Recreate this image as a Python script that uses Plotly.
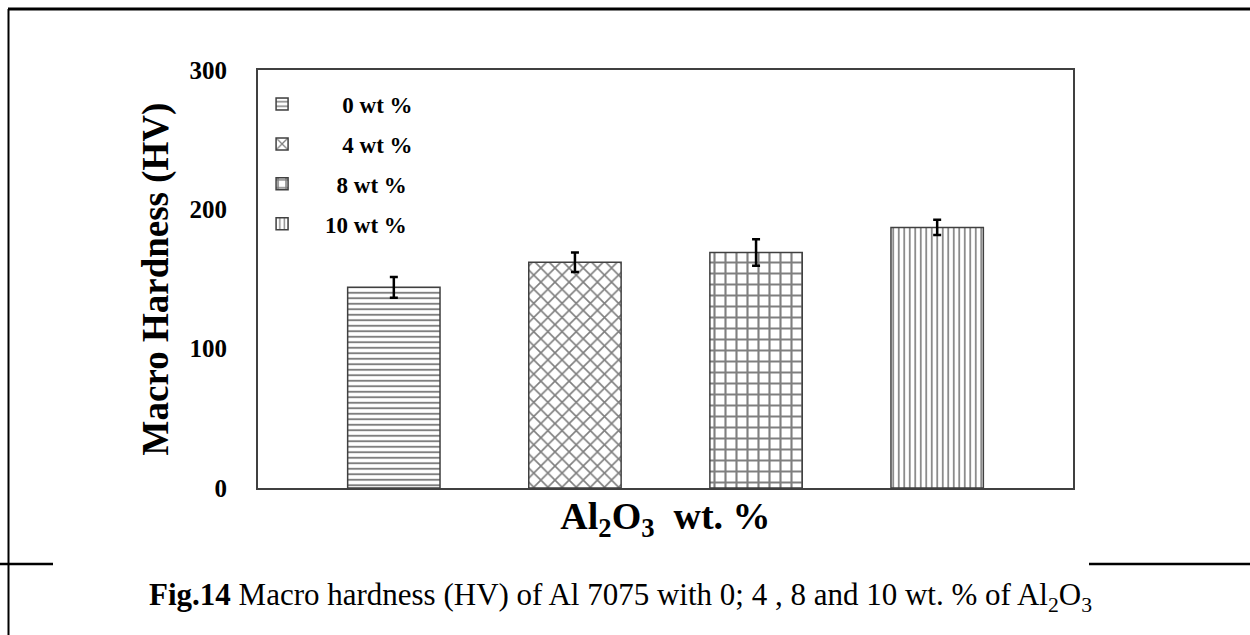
import plotly.graph_objects as go

NB = "\u00a0"
categories = ["0 wt %", "4 wt %", "8 wt %", "10 wt %"]
legend_names = [NB * 7 + "0 wt %", NB * 7 + "4 wt %", NB * 6 + "8 wt %", NB * 4 + "10 wt %"]
hardness = [144, 162, 169, 187]
errors = [7.5, 7, 9.5, 5.5]
patterns = ["-", "x", "+", "|"]
pattern_sizes = [5.5, 10, 11, 5.5]
pattern_solidity = [0.35, 0.3, 0.35, 0.3]
y_ticks = [0, 100, 200, 300]

FONT = "Liberation Serif"

fig = go.Figure()
for i, cat in enumerate(categories):
    fig.add_trace(go.Bar(
        x=[cat], y=[hardness[i]], name=legend_names[i],
        width=0.51,
        legendgroup=f"g{i}",
        marker=dict(color="white",
                    line=dict(color="#404040", width=1.5),
                    pattern=dict(shape=patterns[i], size=pattern_sizes[i],
                                 fgcolor="black", bgcolor="white",
                                 solidity=pattern_solidity[i])),
        error_y=dict(type="data", array=[errors[i]], visible=True,
                     color="black", thickness=2.5, width=4),
    ))

fig.update_layout(
    width=1250, height=635,
    margin=dict(l=258, r=177, t=70, b=147),
    paper_bgcolor="white", plot_bgcolor="white",
    barmode="overlay",
    showlegend=True,
    legend=dict(x=0.005, y=0.97, xanchor="left", yanchor="top",
                bgcolor="rgba(0,0,0,0)", traceorder="grouped",
                tracegroupgap=7,
                font=dict(family=FONT, size=23, color="black", weight="bold")),
    font=dict(family=FONT, color="black"),
)

fig.update_xaxes(
    type="category", categoryorder="array", categoryarray=categories,
    range=[-0.75, 3.75], showticklabels=False, ticks="",
    showline=True, linecolor="#404040", linewidth=2, mirror=True,
    showgrid=False, zeroline=False,
    title=dict(text="<b>Al<sub>2</sub>O<sub>3</sub>" + NB * 2 + "wt. %</b>",
               font=dict(family=FONT, size=38, color="black"), standoff=13),
)
fig.update_yaxes(
    range=[0, 300], tickvals=y_ticks, ticktext=[str(v) for v in y_ticks],
    ticks="", ticklabelstandoff=24,
    tickfont=dict(family=FONT, size=25, color="black", weight="bold"),
    showline=True, linecolor="#404040", linewidth=2, mirror=True,
    showgrid=False, zeroline=False,
    title=dict(text="<b>Macro Hardness (HV)</b>",
               font=dict(family=FONT, size=37, color="black"), standoff=10),
)

# Frame lines of the figure cell (paper coordinates)
def px_x(px):
    return (px - 258) / 815.0

def px_y(py):
    return (488 - py) / 418.0

frame = [
    (px_x(8), px_y(9), px_x(1252), px_y(9), 3),
    (px_x(8.5), px_y(9), px_x(8.5), px_y(640), 2),
    (px_x(-2), px_y(564), px_x(53), px_y(564), 2.5),
    (px_x(1089), px_y(564), px_x(1252), px_y(564), 2.5),
]
for x0, y0, x1, y1, w in frame:
    fig.add_shape(type="line", xref="paper", yref="paper",
                  x0=x0, y0=y0, x1=x1, y1=y1,
                  line=dict(color="black", width=w))

fig.add_annotation(
    xref="paper", yref="paper", x=px_x(147), y=px_y(597),
    xanchor="left", yanchor="middle", showarrow=False,
    text="<b>Fig.14</b> Macro hardness (HV) of Al 7075 with 0; 4 , 8 and 10 wt. % of Al<sub>2</sub>O<sub>3</sub>",
    font=dict(family=FONT, size=31, color="black"),
)

fig.write_html("out.html")
